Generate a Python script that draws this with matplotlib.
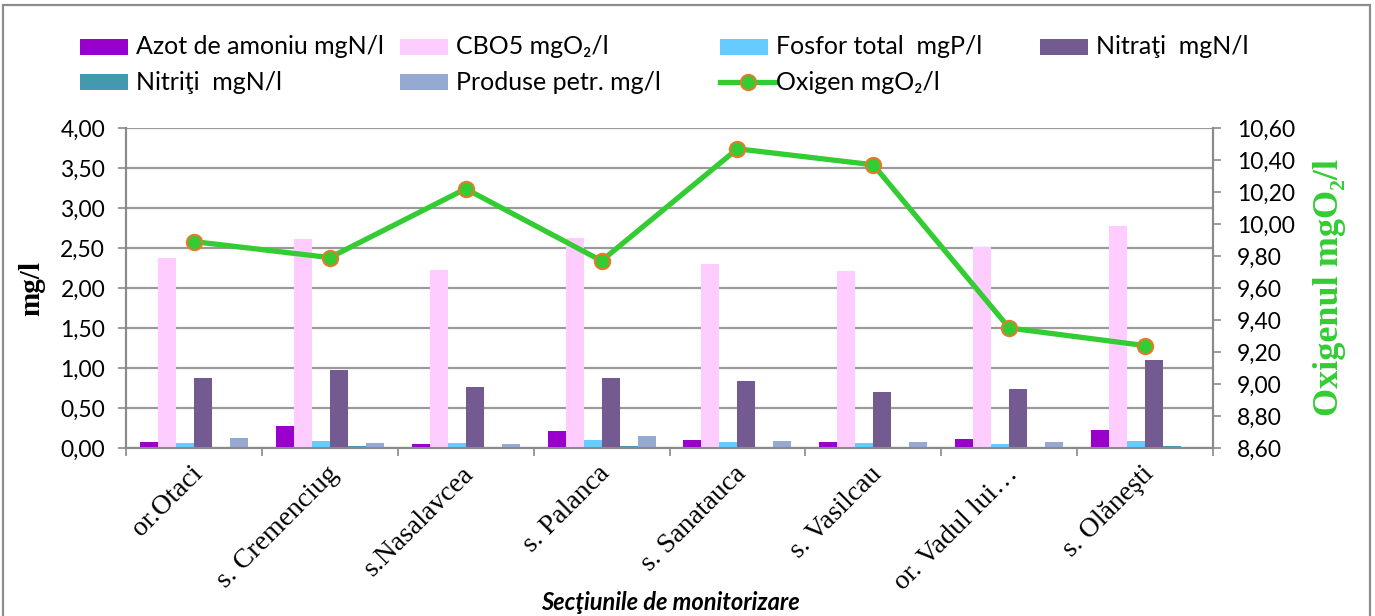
import matplotlib
matplotlib.use("Agg")
import matplotlib.pyplot as plt
import matplotlib.transforms as mtrans
import numpy as np
from matplotlib.patches import Rectangle
from matplotlib.lines import Line2D
from matplotlib.ticker import FixedLocator, FuncFormatter

plt.rcParams['font.family'] = ['Lato', 'DejaVu Sans']

# ---- data ----
sites = ["or.Otaci", "s. Cremenciug", "s.Nasalavcea", "s. Palanca",
         "s. Sanatauca", "s. Vasilcau", "or. Vadul lui…", "s. Olăneşti"]
azot = [0.07, 0.28, 0.05, 0.21, 0.10, 0.08, 0.11, 0.23]
cbo5 = [2.38, 2.61, 2.23, 2.63, 2.30, 2.21, 2.51, 2.78]
fosfor = [0.06, 0.09, 0.06, 0.10, 0.07, 0.06, 0.05, 0.09]
nitrati = [0.88, 0.98, 0.76, 0.87, 0.84, 0.70, 0.74, 1.10]
nitriti = [0.005, 0.025, 0.005, 0.02, 0.005, 0.005, 0.005, 0.025]
produse = [0.12, 0.06, 0.05, 0.15, 0.09, 0.08, 0.07, 0.0]
oxigen = [9.89, 9.79, 10.22, 9.77, 10.47, 10.37, 9.35, 9.24]

labels = ["Azot de amoniu mgN/l", "CBO5 mgO₂/l", "Fosfor total  mgP/l", "Nitraţi  mgN/l",
          "Nitriţi  mgN/l", "Produse petr. mg/l", "Oxigen mgO₂/l"]
colors = ['#9900CC', '#FFCCFF', '#66CCFF', '#735A90', '#4299B0', '#95A9D3']
line_color = '#33CC33'
marker_edge = '#E8782A'
grid_color = '#9A9A9A'
serif = ['Liberation Serif', 'DejaVu Serif']

W, H = 1375, 616
fig = plt.figure(figsize=(W / 100, H / 100), dpi=100)
ax = fig.add_axes([126 / W, 1 - 448 / H, (1213 - 126) / W, 320 / H])
ax2 = ax.twinx()

series = [azot, cbo5, fosfor, nitrati, nitriti, produse]
x = np.arange(len(sites))
bw = 18 / 135.9
for i, (vals, c) in enumerate(zip(series, colors)):
    ax.bar(x + (i - 2.5) * bw, vals, width=bw, color=c, linewidth=0, zorder=3)

ax2.plot(x, oxigen, color=line_color, lw=3.8, marker='o', markersize=11,
         markerfacecolor=line_color, markeredgecolor=marker_edge, markeredgewidth=1.5,
         zorder=5)

ax.set_xlim(-0.5, len(sites) - 0.5)
ax.set_ylim(0, 4)
ax2.set_ylim(8.6, 10.6)

comma = FuncFormatter(lambda v, p: f"{v:.2f}".replace('.', ','))
ax.set_yticks(np.arange(0, 4.01, 0.5))
ax.yaxis.set_major_formatter(comma)
ax2.set_yticks(np.arange(8.6, 10.61, 0.2))
ax2.yaxis.set_major_formatter(comma)

ax.yaxis.grid(True, color=grid_color, lw=1.6, zorder=0)
ax.set_axisbelow(True)

for a in (ax, ax2):
    for s in a.spines.values():
        s.set_color('#8A8A8A')
        s.set_linewidth(1.5)
    a.spines['top'].set_visible(False)
ax.tick_params(axis='y', direction='out', length=6, width=1.2, color='#8A8A8A',
               pad=9, labelsize=16.5, labelcolor='black')
ax2.tick_params(axis='y', direction='out', length=6, width=1.2, color='#8A8A8A',
                pad=11, labelsize=16.5, labelcolor='black')

# x ticks: labels at centers, tick marks at boundaries
ax.set_xticks(x)
ax.set_xticklabels(sites, rotation=45, ha='right', va='center', rotation_mode='anchor',
                   family=serif, fontsize=20)
ax.tick_params(axis='x', which='major', length=0, pad=16)
ax.xaxis.set_minor_locator(FixedLocator(np.arange(-0.5, len(sites), 1.0)))
ax.tick_params(axis='x', which='minor', direction='out', length=6, width=1.2, color='#8A8A8A')

offset = mtrans.ScaledTranslation(5 / 100, 0, fig.dpi_scale_trans)
for lbl in ax.get_xticklabels():
    lbl.set_transform(lbl.get_transform() + offset)

ax.set_ylabel("mg/l", family=serif, fontweight='bold', fontsize=21)
ax.yaxis.set_label_coords((45 - 126) / 1087, 0.5)
ax2.set_ylabel("Oxigenul mgO₂/l", family=serif, fontweight='bold', fontsize=26,
               color=line_color, rotation=90)
ax2.yaxis.set_label_coords((1313 - 126) / 1087, 0.5)

fig.text(670 / W, 1 - 602 / H, "Secţiunile de monitorizare", ha='center', va='center',
         fontsize=17, fontweight='bold', style='italic')

# ---- legend (manual layout) ----
for i, lab in enumerate(labels):
    col, row = i % 4, i // 4
    lx = 80 + 320 * col
    ly = 47 + 35 * row
    if i < 6:
        fig.add_artist(Rectangle((lx / W, 1 - (ly + 8) / H), 48 / W, 16 / H,
                                 transform=fig.transFigure, color=colors[i], lw=0))
    else:
        fig.add_artist(Line2D([lx / W, (lx + 56) / W], [1 - ly / H, 1 - ly / H],
                              transform=fig.transFigure, color=line_color, lw=3.8))
        fig.add_artist(Line2D([(lx + 28) / W], [1 - ly / H], transform=fig.transFigure,
                              marker='o', markersize=11, markerfacecolor=line_color,
                              markeredgecolor=marker_edge, markeredgewidth=1.5))
    fig.text((lx + 56) / W, 1 - ly / H, lab, ha='left', va='center', fontsize=18)

# outer border
fig.add_artist(Rectangle((3 / W, -0.01), (1370 - 3) / W, 1.01 - 5 / H,
                         transform=fig.transFigure, fill=False, edgecolor='#8C8C8C', lw=1.6))

fig.savefig("out.png", dpi=100)
